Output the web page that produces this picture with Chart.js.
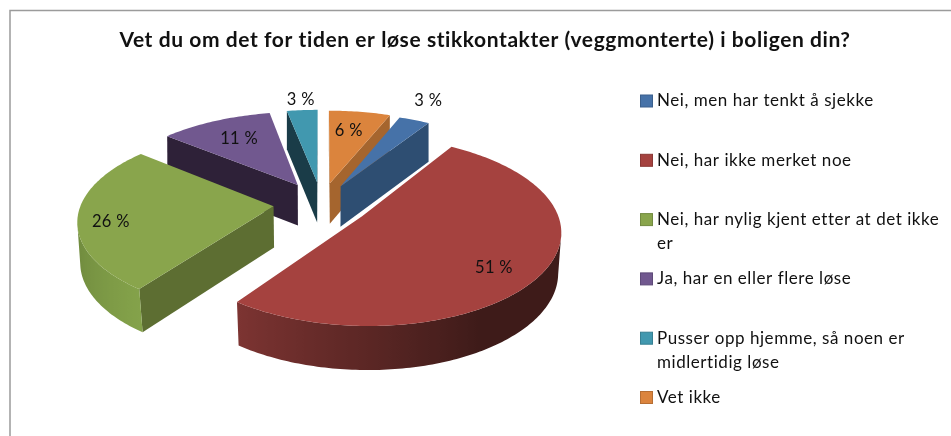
<!DOCTYPE html>
<html><head><meta charset="utf-8">
<style>html,body{margin:0;padding:0;background:#fff}#w{width:951px;height:436px;position:relative}</style>
<script src="https://cdn.jsdelivr.net/npm/chart.js@4"></script>
</head><body><div id="w"><canvas id="c" width="951" height="436"></canvas></div>
<script>
const categories = ["Nei, men har tenkt å sjekke","Nei, har ikke merket noe","Nei, har nylig kjent etter at det ikke er","Ja, har en eller flere løse","Pusser opp hjemme, så noen er midlertidig løse","Vet ikke"];
const legendLines = [["Nei, men har tenkt å sjekke"],["Nei, har ikke merket noe"],["Nei, har nylig kjent etter at det ikke","er"],["Ja, har en eller flere løse"],["Pusser opp hjemme, så noen er","midlertidig løse"],["Vet ikke"]];
const values = [3,51,26,11,3,6];
const titleText = "Vet du om det for tiden er løse stikkontakter (veggmonterte) i boligen din?";
const topColors = ["#4672a8","#a5423f","#89a54c","#71588f","#4198af","#db843d"];
const wallColors = ["#2e4e72","#431a18","#5d6e32","#2e2138","#1a3c48","#a5652e"];
const legendBorders = ["#3a5f8c","#8a3735","#728a40","#5e4a78","#367f92","#b66e33"];
const sideNear = [null,[125,52,50],[132,162,74],null,null,null];
const sideFar  = [null,[62,27,25],[100,125,55],null,null,null];
const sideSpan = [1,66,59,1,1,1];
const explode = [0.225,0.25,0.25,0.25,0.25,0.24];
const labelRadius = [1.54,1.04,1.083,0.95,1.42,0.94];
const labelTurn = [-1.5,4.2,-3.4,0.4,0.2,-1];
const FONT = "Lato, Carlito, sans-serif";
const P = {shift:-163.5, rx:1.275, ry:0.59, px:0.14, py:0.15, depth:0.272};

function solid3d(chart){
  const ctx = chart.ctx, els = chart.getDatasetMeta(0).data;
  const R = els[0].outerRadius, cx = els[0].x + P.shift, cy = els[0].y;
  const Rx = R*P.rx, Ry = R*P.ry, H = R*P.depth;
  const proj = (u,v,low)=>{
    let x = Rx*u/(1-P.px*v), y = Ry*v/(1-P.py*v);
    if(low){ x *= 1-0.02*(0.5+0.5*Math.min(1,Math.max(-1,v))); y += H/(1-0.06*v); }
    return [cx+x, cy+y];
  };
  const slices = els.map((el,i)=>{
    const s = el.startAngle+Math.PI/2, e = el.endAngle+Math.PI/2, m = (s+e)/2;
    return {i,s,e,ox:explode[i]*Math.sin(m),oy:-explode[i]*Math.cos(m)};
  }).sort((a,b)=>a.oy-b.oy);
  const quad=(p,col)=>{
    ctx.beginPath();p.forEach((q,k)=>k?ctx.lineTo(...q):ctx.moveTo(...q));ctx.closePath();
    ctx.fillStyle=col;ctx.fill();
  };
  for(const sl of slices){
    const arc=[];
    const n = Math.ceil((sl.e-sl.s)/(Math.PI/180));
    for(let k=0;k<=n;k++){
      const t = sl.s+(sl.e-sl.s)*k/n;
      arc.push([sl.ox+Math.sin(t), sl.oy-Math.cos(t), t]);
    }
    const apex=[sl.ox,sl.oy];
    [[apex,arc[0]],[arc[n],apex]].forEach(([A,B])=>{
      const a0=proj(A[0],A[1]), b0=proj(B[0],B[1]);
      if(b0[0]<a0[0]) quad([a0,b0,proj(B[0],B[1],true),proj(A[0],A[1],true)],wallColors[sl.i]);
    });
    const vis=arc.filter((p,k)=>{
      const prev=arc[k-1], next=arc[k+1];
      const x=proj(p[0],p[1])[0];
      return (next&&proj(next[0],next[1])[0]<x)||(prev&&proj(prev[0],prev[1])[0]>x);
    });
    if(vis.length>1){
      const up=vis.map(p=>proj(p[0],p[1])), lo=vis.map(p=>proj(p[0],p[1],true)).reverse();
      const xs=up.concat(lo).map(q=>q[0]), x0=Math.min(...xs), x1=Math.max(...xs);
      let fill=wallColors[sl.i];
      if(sideNear[sl.i]){
        fill=ctx.createLinearGradient(x0,0,x1,0);
        vis.forEach((p,k)=>{
          const t=Math.min(1,Math.abs(p[2]*180/Math.PI-216)/sideSpan[sl.i]);
          const c=sideNear[sl.i].map((v,j)=>Math.round(v+(sideFar[sl.i][j]-v)*t));
          fill.addColorStop(Math.min(1,Math.max(0,(up[k][0]-x0)/(x1-x0))),`rgb(${c})`);
        });
      }
      quad(up.concat(lo),fill);
    }
    quad([proj(apex[0],apex[1])].concat(arc.map(p=>proj(p[0],p[1]))),topColors[sl.i]);
  }
  ctx.save();
  ctx.fillStyle="#111";ctx.font="16.5px "+FONT;ctx.letterSpacing="0.3px";ctx.textAlign="center";ctx.textBaseline="middle";
  els.forEach((el,i)=>{
    const m=(el.startAngle+el.endAngle)/2+Math.PI/2+labelTurn[i]*Math.PI/180;
    const q=proj(labelRadius[i]*Math.sin(m),-labelRadius[i]*Math.cos(m));
    ctx.fillText(values[i]+" %",q[0],q[1]);
  });
  ctx.restore();
}

const piePlugin = {id:"solid3d",beforeDatasetDraw(chart){solid3d(chart);return false;}};
const framePlugin = {id:"frame",beforeDraw(chart){
  const c=chart.ctx;c.save();c.strokeStyle="#9b9b9b";c.lineWidth=1.5;
  c.beginPath();c.moveTo(10,436);c.lineTo(10,10.5);c.lineTo(951,10.5);c.stroke();c.restore();
  c.letterSpacing="0.58px";
}};
const legendPlugin = {id:"sideLegend",afterDraw(chart){
  const c=chart.ctx;c.save();c.font="17px "+FONT;c.letterSpacing="0.55px";c.textBaseline="middle";c.textAlign="left";
  legendLines.forEach((lines,i)=>{
    const y=101+59.3*i;
    c.fillStyle=topColors[i];c.strokeStyle=legendBorders[i];c.lineWidth=1;
    c.fillRect(640.5,y-6,12,12);c.strokeRect(640.5,y-6,12,12);
    c.fillStyle="#111";
    lines.forEach((t,k)=>c.fillText(t,657,y+k*24));
  });
  c.restore();
}};
new Chart(document.getElementById("c"),{
  type:"pie",
  data:{labels:categories,datasets:[{data:values,backgroundColor:topColors,borderWidth:0}]},
  options:{
    responsive:false,animation:false,rotation:21.6,
    layout:{padding:{left:19,right:0,top:0,bottom:81.6}},
    plugins:{
      legend:{display:false},tooltip:{enabled:false},
      title:{display:true,text:titleText,color:"#111",font:{family:FONT,size:21,weight:"bold"},padding:{top:27.4,bottom:0}}
    }
  },
  plugins:[framePlugin,piePlugin,legendPlugin]
});
</script></body></html>
